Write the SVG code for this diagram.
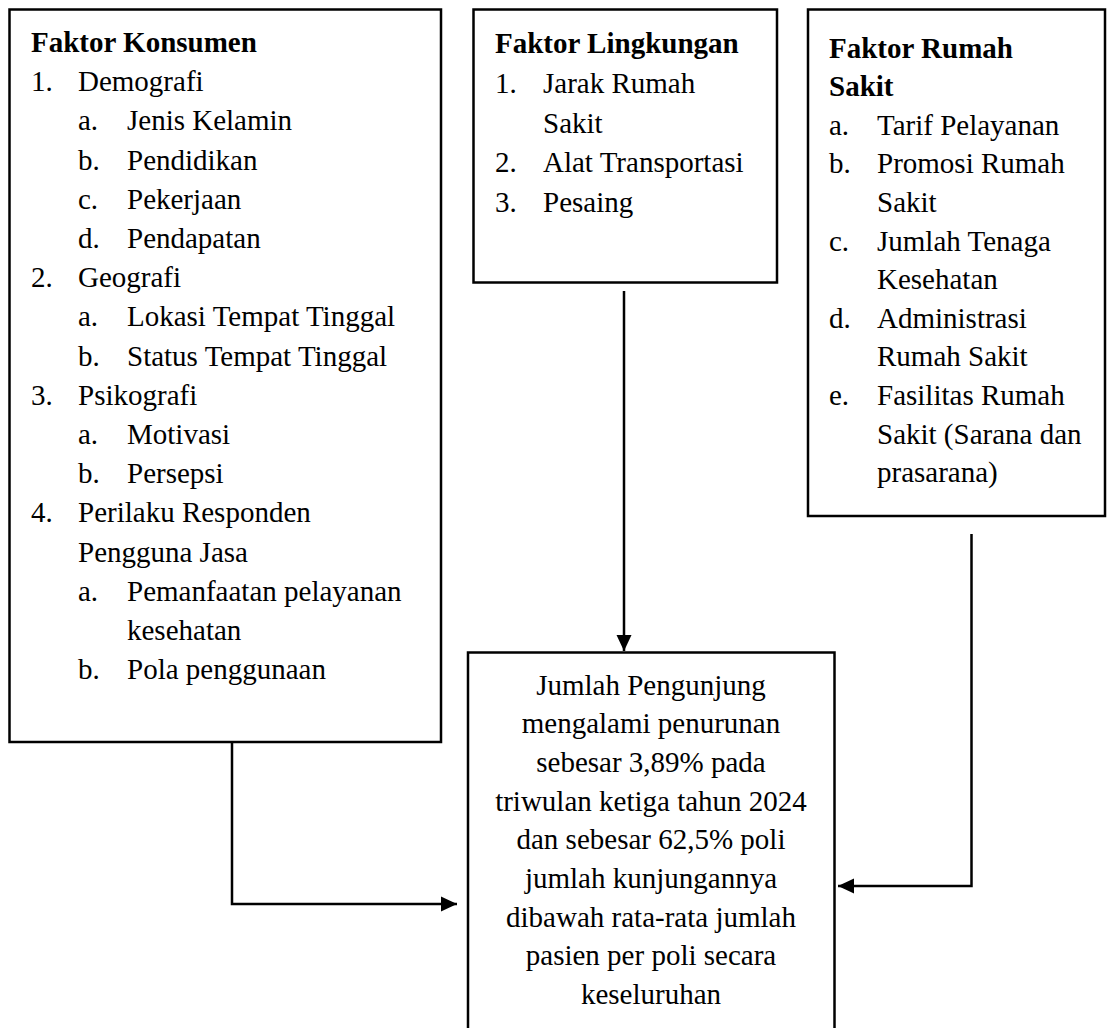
<svg xmlns="http://www.w3.org/2000/svg" width="1108" height="1028" viewBox="0 0 1108 1028">
<style>
.box{fill:#fff;stroke:#000;stroke-width:2.5}
text{font-family:"Liberation Serif","Times New Roman",serif;font-size:29px;fill:#000}
.b{font-weight:bold}
.c{text-anchor:middle}
.conn{fill:none;stroke:#000;stroke-width:2.5}
</style>
<defs>
<marker id="ah" markerUnits="userSpaceOnUse" markerWidth="16" markerHeight="16" viewBox="0 0 16 16" refX="16" refY="8" orient="auto">
<path d="M0,0.5 L16,8 L0,15.5 Z" fill="#000"/>
</marker>
</defs>
<rect width="1108" height="1028" fill="#fff"/>
<g id="konsumen">
<rect class="box" x="9.5" y="9.5" width="431.5" height="732.5"/>
<text class="b" x="31" y="52">Faktor Konsumen</text>
<text x="31" y="91.2">1.</text><text x="78" y="91.2">Demografi</text>
<text x="78" y="130.4">a.</text><text x="127" y="130.4">Jenis Kelamin</text>
<text x="78" y="169.6">b.</text><text x="127" y="169.6">Pendidikan</text>
<text x="78" y="208.8">c.</text><text x="127" y="208.8">Pekerjaan</text>
<text x="78" y="248">d.</text><text x="127" y="248">Pendapatan</text>
<text x="31" y="287.2">2.</text><text x="78" y="287.2">Geografi</text>
<text x="78" y="326.4">a.</text><text x="127" y="326.4">Lokasi Tempat Tinggal</text>
<text x="78" y="365.6">b.</text><text x="127" y="365.6">Status Tempat Tinggal</text>
<text x="31" y="404.8">3.</text><text x="78" y="404.8">Psikografi</text>
<text x="78" y="444">a.</text><text x="127" y="444">Motivasi</text>
<text x="78" y="483.2">b.</text><text x="127" y="483.2">Persepsi</text>
<text x="31" y="522.4">4.</text><text x="78" y="522.4">Perilaku Responden</text>
<text x="78" y="561.6">Pengguna Jasa</text>
<text x="78" y="600.8">a.</text><text x="127" y="600.8">Pemanfaatan pelayanan</text>
<text x="127" y="640">kesehatan</text>
<text x="78" y="679.2">b.</text><text x="127" y="679.2">Pola penggunaan</text>
</g>
<g id="lingkungan">
<rect class="box" x="473.5" y="9.5" width="303.5" height="273"/>
<text class="b" x="495" y="53">Faktor Lingkungan</text>
<text x="495" y="93">1.</text><text x="543" y="93">Jarak Rumah</text>
<text x="543" y="132.5">Sakit</text>
<text x="495" y="172">2.</text><text x="543" y="172">Alat Transportasi</text>
<text x="495" y="211.5">3.</text><text x="543" y="211.5">Pesaing</text>
</g>
<g id="rumahsakit">
<rect class="box" x="808" y="9.5" width="297" height="506.5"/>
<text class="b" x="829" y="57.5">Faktor Rumah</text>
<text class="b" x="829" y="96.1">Sakit</text>
<text x="829" y="134.7">a.</text><text x="877" y="134.7">Tarif Pelayanan</text>
<text x="829" y="173.3">b.</text><text x="877" y="173.3">Promosi Rumah</text>
<text x="877" y="211.9">Sakit</text>
<text x="829" y="250.5">c.</text><text x="877" y="250.5">Jumlah Tenaga</text>
<text x="877" y="289.1">Kesehatan</text>
<text x="829" y="327.7">d.</text><text x="877" y="327.7">Administrasi</text>
<text x="877" y="366.3">Rumah Sakit</text>
<text x="829" y="404.9">e.</text><text x="877" y="404.9">Fasilitas Rumah</text>
<text x="877" y="443.5">Sakit (Sarana dan</text>
<text x="877" y="482.1">prasarana)</text>
</g>
<g id="jumlah">
<rect class="box" x="468" y="652.5" width="366.5" height="400"/>
<text class="c" x="651" y="694.5">Jumlah Pengunjung</text>
<text class="c" x="651" y="733.2">mengalami penurunan</text>
<text class="c" x="651" y="771.9">sebesar 3,89% pada</text>
<text class="c" x="651" y="810.6">triwulan ketiga tahun 2024</text>
<text class="c" x="651" y="849.3">dan sebesar 62,5% poli</text>
<text class="c" x="651" y="888">jumlah kunjungannya</text>
<text class="c" x="651" y="926.7">dibawah rata-rata jumlah</text>
<text class="c" x="651" y="965.4">pasien per poli secara</text>
<text class="c" x="651" y="1004.1">keseluruhan</text>
</g>
<g id="connectors">
<path class="conn" d="M624,291 L624,651" marker-end="url(#ah)"/>
<path class="conn" d="M232,742 L232,904 L457,904" marker-end="url(#ah)"/>
<path class="conn" d="M971.5,534 L971.5,886 L838,886" marker-end="url(#ah)"/>
</g>
</svg>
